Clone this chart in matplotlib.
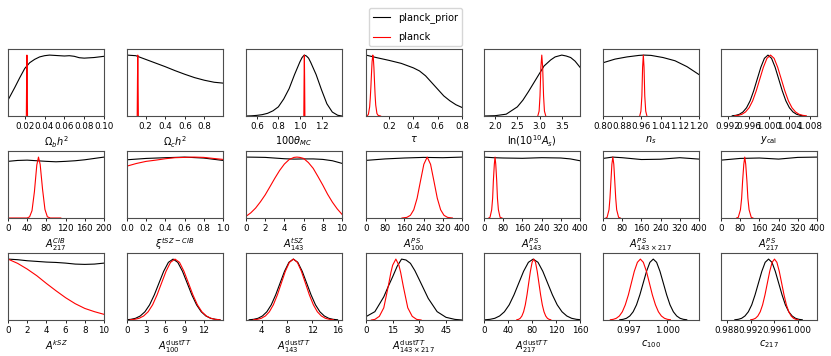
import matplotlib
matplotlib.use("Agg")
import matplotlib.pyplot as plt

# 1D marginals, max normalised to 1
# row 1: cosmology
ombh2_prior_x = [0.0031, 0.010, 0.015, 0.020, 0.025, 0.030, 0.035, 0.040, 0.045, 0.050, 0.055, 0.060, 0.065, 0.070, 0.075, 0.080, 0.085, 0.090, 0.095, 0.100]
ombh2_prior_y = [0.26, 0.47, 0.63, 0.78, 0.875, 0.93, 0.97, 0.99, 1.0, 0.995, 0.99, 0.985, 0.99, 0.98, 0.957, 0.95, 0.955, 0.96, 0.97, 0.98]
ombh2_planck_x = [0.0216, 0.0219, 0.0222, 0.0225, 0.0228]
ombh2_planck_y = [0.0, 0.6, 1.0, 0.6, 0.0]

omch2_prior_x = [0.01, 0.1, 0.2, 0.3, 0.4, 0.5, 0.6, 0.7, 0.8, 0.9, 0.99]
omch2_prior_y = [1.0, 0.99, 0.93, 0.87, 0.81, 0.745, 0.685, 0.63, 0.587, 0.554, 0.54]
omch2_planck_x = [0.114, 0.117, 0.120, 0.123, 0.126]
omch2_planck_y = [0.0, 0.6, 1.0, 0.6, 0.0]

theta_prior_x = [0.5, 0.55, 0.6, 0.65, 0.7, 0.75, 0.8, 0.85, 0.9, 0.95, 1.0, 1.02, 1.04, 1.06, 1.08, 1.1, 1.15, 1.2, 1.25, 1.3, 1.35, 1.39]
theta_prior_y = [0.0, 0.003, 0.01, 0.022, 0.044, 0.085, 0.15, 0.28, 0.45, 0.68, 0.89, 0.96, 1.0, 0.985, 0.95, 0.88, 0.68, 0.43, 0.2, 0.065, 0.012, 0.0]
theta_planck_x = [1.036, 1.0385, 1.041, 1.0435, 1.046]
theta_planck_y = [0.0, 0.6, 1.0, 0.6, 0.0]

tau_prior_x = [0.01, 0.1, 0.2, 0.3, 0.4, 0.45, 0.5, 0.55, 0.6, 0.65, 0.7, 0.75, 0.8]
tau_prior_y = [1.0, 0.957, 0.913, 0.864, 0.79, 0.74, 0.66, 0.55, 0.44, 0.33, 0.25, 0.185, 0.14]
tau_planck_x = [0.02, 0.03, 0.04, 0.045, 0.05, 0.055, 0.06, 0.066, 0.07, 0.075, 0.08, 0.085, 0.09, 0.10, 0.11, 0.13]
tau_planck_y = [0.0, 0.03, 0.15, 0.29, 0.47, 0.69, 0.89, 1.0, 0.96, 0.8, 0.56, 0.34, 0.18, 0.04, 0.01, 0.0]

logA_prior_x = [1.75, 2.0, 2.25, 2.5, 2.625, 2.75, 2.875, 3.0, 3.1, 3.25, 3.35, 3.5, 3.6, 3.7, 3.8, 3.91]
logA_prior_y = [0.0, 0.005, 0.03, 0.15, 0.26, 0.40, 0.55, 0.70, 0.82, 0.92, 0.97, 1.0, 0.985, 0.96, 0.9, 0.8]
logA_planck_x = [2.96, 2.99, 3.01, 3.03, 3.05, 3.07, 3.09, 3.11, 3.14]
logA_planck_y = [0.0, 0.08, 0.33, 0.8, 1.0, 0.8, 0.33, 0.08, 0.0]

ns_prior_x = [0.8, 0.85, 0.9, 0.95, 0.97, 1.0, 1.05, 1.1, 1.15, 1.2]
ns_prior_y = [0.874, 0.934, 0.97, 0.995, 1.0, 0.995, 0.96, 0.907, 0.81, 0.68]
ns_planck_x = [0.953, 0.958, 0.962, 0.965, 0.968, 0.971, 0.974, 0.978, 0.983]
ns_planck_y = [0.0, 0.08, 0.33, 0.8, 1.0, 0.8, 0.33, 0.08, 0.0]

# bell-shaped profile heights, shared by the near-gaussian marginals below
bell_y = [0.004, 0.011, 0.028, 0.066, 0.135, 0.249, 0.413, 0.607, 0.800, 0.947, 1.0,
          0.947, 0.800, 0.607, 0.413, 0.249, 0.135, 0.066, 0.028, 0.011, 0.004]
narrow_y = [0.0, 0.011, 0.135, 0.325, 0.607, 0.882, 1.0, 0.882, 0.607, 0.325, 0.135, 0.011, 0.0]

ycal_prior_x = [0.9928, 0.9935, 0.9942, 0.9949, 0.9956, 0.9963, 0.9970, 0.9977, 0.9984, 0.9991, 0.9998,
                1.0005, 1.0012, 1.0019, 1.0026, 1.0033, 1.0040, 1.0047, 1.0054, 1.0061, 1.0068]
ycal_prior_y = bell_y
ycal_planck_x = [0.9933, 0.9940, 0.9947, 0.9954, 0.9961, 0.9968, 0.9975, 0.9982, 0.9989, 0.9996, 1.0003,
                 1.0010, 1.0017, 1.0024, 1.0031, 1.0038, 1.0045, 1.0052, 1.0059, 1.0066, 1.0073]
ycal_planck_y = bell_y

# row 2: foregrounds
acib_prior_x = [0, 20, 40, 60, 80, 100, 120, 140, 160, 180, 200]
acib_prior_y = [0.93, 0.945, 0.95, 0.94, 0.93, 0.923, 0.93, 0.94, 0.956, 0.978, 1.0]
acib_planck_x = [0, 40, 45, 50, 55, 60, 63.5, 67, 72, 77, 82, 88, 110]
acib_planck_y = [0.0, 0.0, 0.02, 0.12, 0.43, 0.87, 1.0, 0.88, 0.47, 0.14, 0.02, 0.0, 0.0]

xi_prior_x = [0.0, 0.2, 0.4, 0.6, 0.8, 1.0]
xi_prior_y = [0.956, 0.978, 0.99, 1.0, 0.984, 0.945]
xi_planck_x = [0.0, 0.1, 0.2, 0.3, 0.4, 0.5, 0.6, 0.7, 0.8, 0.9, 1.0]
xi_planck_y = [0.852, 0.896, 0.93, 0.95, 0.973, 0.99, 0.995, 1.0, 0.995, 0.978, 0.962]

atsz_prior_x = [0, 1, 2, 3, 4, 5, 6, 7, 8, 9, 10]
atsz_prior_y = [1.0, 0.998, 0.995, 0.984, 0.973, 0.967, 0.97, 0.97, 0.962, 0.94, 0.897]
atsz_planck_x = [0, 0.5, 1, 1.5, 2, 2.5, 3, 3.5, 4, 4.5, 5, 5.3, 5.6, 6, 6.5, 7, 7.5, 8, 8.5, 9, 9.5, 10]
atsz_planck_y = [0.027, 0.085, 0.163, 0.265, 0.38, 0.515, 0.652, 0.78, 0.886, 0.96, 0.995, 1.0, 0.995, 0.978, 0.91, 0.815, 0.68, 0.54, 0.39, 0.26, 0.15, 0.06]

aps100_prior_x = [0, 80, 160, 240, 320, 400]
aps100_prior_y = [0.946, 0.97, 0.985, 0.995, 0.99, 1.0]
aps100_planck_x = [150, 170, 185, 199, 213, 227, 241, 255, 269, 283, 297, 311, 325, 340, 360]
aps100_planck_y = [0.0, 0.01, 0.044, 0.135, 0.325, 0.607, 0.882, 1.0, 0.882, 0.607, 0.325, 0.135, 0.044, 0.01, 0.0]

aps143_prior_x = [0, 40, 80, 160, 240, 320, 360, 400]
aps143_prior_y = [1.0, 0.99, 0.985, 0.98, 0.99, 0.985, 0.97, 0.94]
aps143_planck_x = [20, 25, 32, 36, 39, 43, 46, 49, 53, 56, 60, 67, 75]
aps143_planck_y = narrow_y

aps143x217_prior_x = [0, 40, 80, 160, 240, 320, 400]
aps143x217_prior_y = [0.978, 1.0, 0.99, 0.96, 0.965, 0.99, 0.967]
aps143x217_planck_x = [12, 17, 25, 29, 33, 37, 41, 45, 49, 53, 57, 65, 72]
aps143x217_planck_y = narrow_y

aps217_prior_x = [0, 80, 160, 240, 320, 400]
aps217_prior_y = [0.95, 0.978, 0.985, 0.967, 0.995, 1.0]
aps217_planck_x = [65, 72, 81, 86, 90, 95, 99, 103, 108, 112, 117, 126, 133]
aps217_planck_y = narrow_y

# row 3: kSZ, dust, calibrations
aksz_prior_x = [0, 1, 2, 3, 4, 5, 6, 7, 8, 9, 10]
aksz_prior_y = [1.0, 0.99, 0.973, 0.962, 0.951, 0.945, 0.934, 0.918, 0.913, 0.918, 0.934]
aksz_planck_x = [0, 1, 2, 3, 4, 5, 6, 7, 8, 9, 10]
aksz_planck_y = [1.0, 0.93, 0.836, 0.727, 0.60, 0.48, 0.366, 0.268, 0.19, 0.137, 0.093]

adust100_prior_x = [0.0, 0.60, 1.33, 2.07, 2.80, 3.53, 4.27, 5.00, 5.73, 6.47, 7.2,
                    7.93, 8.67, 9.40, 10.13, 10.87, 11.60, 12.33, 13.07, 13.80, 14.53]
adust100_prior_y = [0.005, 0.011, 0.028, 0.066, 0.135, 0.249, 0.413, 0.607, 0.800, 0.947, 1.0,
                    0.947, 0.800, 0.607, 0.413, 0.249, 0.135, 0.066, 0.028, 0.011, 0.004]
adust100_planck_x = [0.5, 1.2, 1.9, 2.6, 3.3, 4.0, 4.7, 5.4, 6.1, 6.8, 7.5,
                     8.2, 8.9, 9.6, 10.3, 11.0, 11.7, 12.4, 13.1, 13.8, 14.5]
adust100_planck_y = bell_y

adust143_prior_x = [2.0, 2.7, 3.4, 4.1, 4.8, 5.5, 6.2, 6.9, 7.6, 8.3, 9.0,
                    9.7, 10.4, 11.1, 11.8, 12.5, 13.2, 13.9, 14.6, 15.3, 16.0]
adust143_prior_y = bell_y
adust143_planck_x = [2.67, 3.30, 3.93, 4.57, 5.20, 5.83, 6.47, 7.10, 7.73, 8.37, 9.0,
                     9.63, 10.27, 10.90, 11.53, 12.17, 12.80, 13.43, 14.07, 14.70, 15.33]
adust143_planck_y = bell_y

adust143x217_prior_x = [0, 5, 10, 12.5, 15, 17.5, 20, 22.5, 25, 27.5, 30, 35, 40, 45, 50, 54]
adust143x217_prior_y = [0.055, 0.137, 0.38, 0.55, 0.71, 0.88, 1.0, 0.985, 0.93, 0.81, 0.66, 0.355, 0.137, 0.044, 0.01, 0.0]
adust143x217_planck_x = [3, 5, 7.5, 10, 12.5, 14, 15, 16.8, 18.5, 19.5, 21, 23.5, 26, 28.5, 31]
adust143x217_planck_y = [0.0, 0.01, 0.06, 0.2, 0.55, 0.78, 0.9, 1.0, 0.9, 0.78, 0.55, 0.2, 0.06, 0.01, 0.0]

adust217_prior_x = [2, 10, 18, 26, 34, 42, 50, 58, 66, 74, 82, 90, 98, 106, 114, 122, 130, 138, 146, 154, 162]
adust217_prior_y = bell_y
adust217_planck_x = [54.67, 57.5, 60.33, 63.17, 66.0, 68.83, 71.67, 74.5, 77.33, 80.17, 83.0,
                     85.83, 88.67, 91.5, 94.33, 97.17, 100.0, 102.83, 105.67, 108.5, 111.33]
adust217_planck_y = bell_y

c100_prior_x = [0.99630, 0.99656, 0.99682, 0.99708, 0.99734, 0.99760, 0.99786, 0.99812, 0.99838, 0.99864, 0.9989,
                0.99916, 0.99942, 0.99968, 0.99994, 1.00020, 1.00046, 1.00072, 1.00098, 1.00124, 1.00150]
c100_prior_y = bell_y
c100_planck_x = [0.99557, 0.99580, 0.99603, 0.99627, 0.99650, 0.99673, 0.99697, 0.99720, 0.99743, 0.99767, 0.9979,
                 0.99813, 0.99837, 0.99860, 0.99883, 0.99907, 0.99930, 0.99953, 0.99977, 1.00000, 1.00023]
c100_planck_y = bell_y

c217_prior_x = [0.98933, 0.98990, 0.99047, 0.99103, 0.99160, 0.99217, 0.99273, 0.99330, 0.99387, 0.99443, 0.995,
                0.99557, 0.99613, 0.99670, 0.99727, 0.99783, 0.99840, 0.99897, 0.99953, 1.00010, 1.00067]
c217_prior_y = bell_y
c217_planck_x = [0.9920, 0.9924, 0.9928, 0.9932, 0.9936, 0.9940, 0.9944, 0.9948, 0.9952, 0.9956, 0.9960,
                 0.9964, 0.9968, 0.9972, 0.9976, 0.9980, 0.9984, 0.9988, 0.9992, 0.9996, 1.0000]
c217_planck_y = bell_y

labels = [r'$\Omega_b h^2$', r'$\Omega_c h^2$', r'$100\theta_{MC}$', r'$\tau$',
          r'$\ln(10^{10} A_s)$', r'$n_s$', r'$y_{\rm cal}$',
          r'$A^{CIB}_{217}$', r'$\xi^{tSZ-CIB}$', r'$A^{tSZ}_{143}$', r'$A^{PS}_{100}$',
          r'$A^{PS}_{143}$', r'$A^{PS}_{143\times217}$', r'$A^{PS}_{217}$',
          r'$A^{kSZ}$', r'$A^{{\rm dust}TT}_{100}$', r'$A^{{\rm dust}TT}_{143}$',
          r'$A^{{\rm dust}TT}_{143\times217}$', r'$A^{{\rm dust}TT}_{217}$', r'$c_{100}$', r'$c_{217}$']

xlims = [(0.0031, 0.10), (0.01, 0.99), (0.5, 1.39), (0.01, 0.8), (1.75, 3.91), (0.8, 1.2), (0.9906, 1.0094),
         (0, 200), (0, 1), (0, 10), (0, 400), (0, 400), (0, 400), (0, 400),
         (0, 10), (0, 15), (1.5, 16.7), (0, 54), (0, 160), (0.995, 1.00245), (0.987, 1.00315)]

xticks = [[0.02, 0.04, 0.06, 0.08, 0.10], [0.2, 0.4, 0.6, 0.8], [0.6, 0.8, 1.0, 1.2], [0.2, 0.4, 0.6, 0.8],
          [2.0, 2.5, 3.0, 3.5], [0.80, 0.88, 0.96, 1.04, 1.12, 1.20], [0.992, 0.996, 1.000, 1.004, 1.008],
          [0, 40, 80, 120, 160, 200], [0.0, 0.2, 0.4, 0.6, 0.8, 1.0], [0, 2, 4, 6, 8, 10],
          [0, 80, 160, 240, 320, 400], [0, 80, 160, 240, 320, 400], [0, 80, 160, 240, 320, 400],
          [0, 80, 160, 240, 320, 400],
          [0, 2, 4, 6, 8, 10], [0, 3, 6, 9, 12], [4, 8, 12, 16], [0, 15, 30, 45], [0, 40, 80, 120, 160],
          [0.997, 1.000], [0.988, 0.992, 0.996, 1.000]]

tick_fmt = ['%.2f', '%.1f', '%.1f', '%.1f', '%.1f', '%.2f', '%.3f',
            '%d', '%.1f', '%d', '%d', '%d', '%d', '%d',
            '%d', '%d', '%d', '%d', '%d', '%.3f', '%.3f']

prior_curves = [(ombh2_prior_x, ombh2_prior_y), (omch2_prior_x, omch2_prior_y), (theta_prior_x, theta_prior_y),
                (tau_prior_x, tau_prior_y), (logA_prior_x, logA_prior_y), (ns_prior_x, ns_prior_y),
                (ycal_prior_x, ycal_prior_y), (acib_prior_x, acib_prior_y), (xi_prior_x, xi_prior_y),
                (atsz_prior_x, atsz_prior_y), (aps100_prior_x, aps100_prior_y), (aps143_prior_x, aps143_prior_y),
                (aps143x217_prior_x, aps143x217_prior_y), (aps217_prior_x, aps217_prior_y),
                (aksz_prior_x, aksz_prior_y), (adust100_prior_x, adust100_prior_y),
                (adust143_prior_x, adust143_prior_y), (adust143x217_prior_x, adust143x217_prior_y),
                (adust217_prior_x, adust217_prior_y), (c100_prior_x, c100_prior_y), (c217_prior_x, c217_prior_y)]

planck_curves = [(ombh2_planck_x, ombh2_planck_y), (omch2_planck_x, omch2_planck_y), (theta_planck_x, theta_planck_y),
                 (tau_planck_x, tau_planck_y), (logA_planck_x, logA_planck_y), (ns_planck_x, ns_planck_y),
                 (ycal_planck_x, ycal_planck_y), (acib_planck_x, acib_planck_y), (xi_planck_x, xi_planck_y),
                 (atsz_planck_x, atsz_planck_y), (aps100_planck_x, aps100_planck_y), (aps143_planck_x, aps143_planck_y),
                 (aps143x217_planck_x, aps143x217_planck_y), (aps217_planck_x, aps217_planck_y),
                 (aksz_planck_x, aksz_planck_y), (adust100_planck_x, adust100_planck_y),
                 (adust143_planck_x, adust143_planck_y), (adust143x217_planck_x, adust143x217_planck_y),
                 (adust217_planck_x, adust217_planck_y), (c100_planck_x, c100_planck_y), (c217_planck_x, c217_planck_y)]

W, H = 831, 356
fig = plt.figure(figsize=(W / 100, H / 100), dpi=100)

# panel grid in pixels
col_left = [8, 127, 246, 366, 484, 603, 721]
row_top = [49, 151, 253]
pw, ph = 96, 67

first_ax = None
for i in range(21):
    r, c = divmod(i, 7)
    ax = fig.add_axes([col_left[c] / W, 1 - (row_top[r] + ph) / H, pw / W, ph / H])
    px, py = prior_curves[i]
    qx, qy = planck_curves[i]
    ax.plot(px, py, color='k', lw=0.8, label='planck_prior')
    ax.plot(qx, qy, color='red', lw=0.8, label='planck')
    ax.set_xlim(xlims[i])
    ax.set_ylim(0, 1.1)
    ax.set_yticks([])
    ax.set_xticks(xticks[i])
    ax.set_xticklabels([tick_fmt[i] % t for t in xticks[i]])
    ax.tick_params(axis='x', labelsize=6.3, length=2.5, width=0.6, pad=2)
    ax.set_xlabel(labels[i], fontsize=7, labelpad=2)
    for s in ax.spines.values():
        s.set_linewidth(0.8)
        s.set_color('0.3')
    if first_ax is None:
        first_ax = ax

handles, names = first_ax.get_legend_handles_labels()
fig.legend(handles, names, loc='upper center', bbox_to_anchor=(0.5, 0.99),
           fontsize=7, frameon=True, labelspacing=0.9, handlelength=1.8)

fig.savefig('out.png', dpi=100)
